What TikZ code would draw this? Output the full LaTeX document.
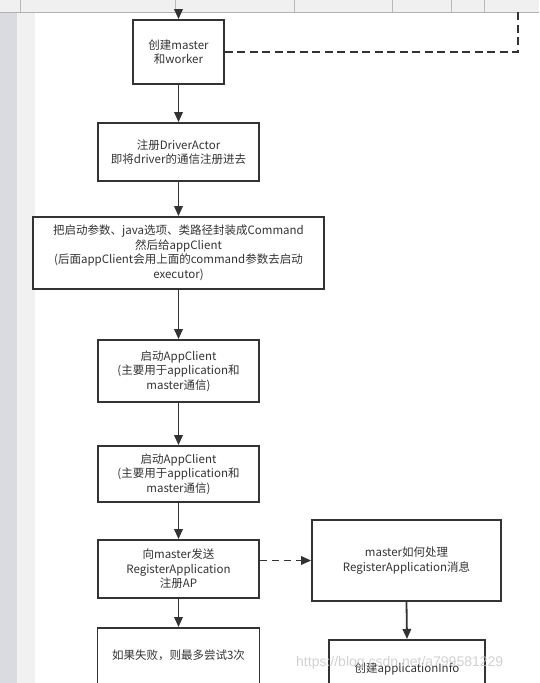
\documentclass[tikz,border=0pt]{standalone}
\usepackage{fontspec}
\newfontfamily\cjk{Noto Sans CJK SC}
\usetikzlibrary{arrows.meta}
\definecolor{ink}{HTML}{333333}
\definecolor{stripdark}{HTML}{D9DBE0}
\definecolor{striplight}{HTML}{F1F1F1}
\definecolor{toolbar}{HTML}{F0F0F0}
\tikzset{
  box/.style={draw=ink, line width=1.8pt, fill=white, inner sep=0pt, align=center,
              text=ink, font=\cjk\fontsize{11.5}{14.5}\selectfont},
  txt/.style={inner sep=0pt, align=center, text=ink, font=\cjk\fontsize{11.5}{14.5}\selectfont},
  flow/.style={draw=ink, line width=1.8pt, -{Triangle[length=10pt,width=8.5pt]}},
  dflow/.style={draw=ink, line width=1.8pt, dash pattern=on 7pt off 5pt, -{Triangle[length=10pt,width=8.5pt]}},
  dline/.style={draw=ink, line width=1.8pt, dash pattern=on 8pt off 4.5pt},
}
\begin{document}
\begin{tikzpicture}[x=1pt,y=-1pt]
\useasboundingbox (0,0) rectangle (539,683);
\clip (0,0) rectangle (539,683);
% screen background
\fill[white] (0,0) rectangle (539,683);
\fill[stripdark] (0,0) rectangle (17,683);
\fill[striplight] (17,0) rectangle (35,683);
\fill[toolbar] (0,0) rectangle (539,12);
\draw[gray!60, line width=0.8pt] (0,12) -- (539,12);
\foreach \sx in {20,175.5,294.5,392,451,484}
  \draw[gray!55, line width=0.6pt] (\sx,0) -- (\sx,12);

% boxes
\node[box, minimum width=91, minimum height=64] (b1) at (178.5,52) {创建master\\和worker};
\node[box, minimum width=161, minimum height=58] (b2) at (178.5,152) {注册DriverActor\\即将driver的通信注册进去};
\node[box, minimum width=291, minimum height=72] (b3) at (178.5,253)
  {把启动参数、java选项、类路径封装成Command\\然后给appClient\\(后面appClient会用上面的command参数去启动\\executor)};
\node[box, minimum width=161, minimum height=62] (b4) at (178.5,371) {启动AppClient\\(主要用于application和\\master通信)};
\node[box, minimum width=161, minimum height=56] (b5) at (178.5,474) {启动AppClient\\(主要用于application和\\master通信)};
\node[box, minimum width=161, minimum height=58] (b6) at (178.5,569) {向master发送\\RegisterApplication\\注册AP};
\node[box, minimum width=189, minimum height=81] (b7) at (406.5,560.5) {master如何处理\\RegisterApplication消息};
\node[box, minimum width=162, minimum height=90, anchor=north] (b8) at (178.5,627) {};
\node[txt] (t8) at (178.5,655) {如果失败，则最多尝试3次};
\node[box, minimum width=156, minimum height=90, anchor=north] (b9) at (407,639) {};
\node[txt] (t9) at (407,669) {创建applicationInfo};

% connectors
\coordinate (top) at (178.5,12);
\coordinate (corner) at (518,52);
\coordinate (cornertop) at (518,12);
\draw[flow] (top) -- (b1.north);
\draw[dline] (b1.east) -- (corner) -- (cornertop);
\draw[flow] (b1) -- (b2);
\draw[flow] (b2) -- (b3);
\draw[flow] (b3) -- (b4);
\draw[flow] (b4) -- (b5);
\draw[flow] (b5) -- (b6);
\draw[flow] (b6.south) -- (b8.north);
\draw[dflow] (b6.east |- b7.west) -- (b7.west);
\draw[flow] (b7.south) -- (b9.north);

% watermark
\node[anchor=west, inner sep=0pt, text=gray!45, opacity=0.8,
      font=\fontspec{Liberation Sans}\fontsize{14}{16}\selectfont] (wm) at (296,663) {https://blog.csdn.net/a799581229};
\end{tikzpicture}
\end{document}
